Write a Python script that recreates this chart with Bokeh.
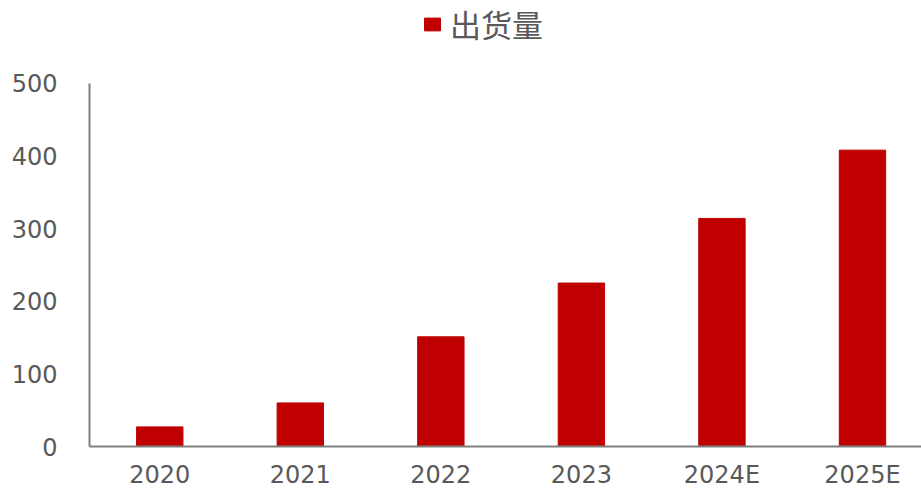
from bokeh.plotting import figure
from bokeh.models import Range1d, FixedTicker, Legend, LegendItem, ColumnDataSource
from bokeh.embed import file_html
from bokeh.resources import INLINE

# ---- data ----
categories = ["2020", "2021", "2022", "2023", "2024E", "2025E"]
shipments = [27, 60, 151, 225, 314, 408]
y_ticks = [0, 100, 200, 300, 400, 500]
series_name = "出货量"

# positions of categories on a numeric axis (category centres)
xpos = [i + 0.5 for i in range(len(categories))]

src = ColumnDataSource(dict(x=xpos, top=shipments, cat=categories))

p = figure(width=921, height=491, output_backend="svg", toolbar_location=None,
           x_range=Range1d(0, 5.92), y_range=Range1d(0, 614))
p.min_border_left = 89
p.min_border_right = 0
p.min_border_top = 0
p.min_border_bottom = 0
p.outline_line_color = None
p.grid.visible = False
p.background_fill_color = "white"

r = p.vbar(x="x", top="top", width=0.33, bottom=0, source=src,
           fill_color="#C00000", line_color="#C00000")

grey_txt = "#595959"
axis_col = "#7F7F7F"

# y axis
ya = p.yaxis[0]
ya.ticker = FixedTicker(ticks=y_ticks)
ya.bounds = (0, 500)
ya.axis_line_color = axis_col
ya.axis_line_width = 2
ya.major_tick_line_color = None
ya.minor_tick_line_color = None
ya.major_label_standoff = 26
ya.major_label_text_font = "DejaVu Sans"
ya.major_label_text_font_size = "24px"
ya.major_label_text_color = grey_txt

# x axis
xa = p.xaxis[0]
xa.ticker = FixedTicker(ticks=xpos)
xa.major_label_overrides = {x: c for x, c in zip(xpos, categories)}
xa.axis_line_color = axis_col
xa.axis_line_width = 2
xa.major_tick_line_color = None
xa.minor_tick_line_color = None
xa.major_label_standoff = 8
xa.major_label_text_font = "DejaVu Sans"
xa.major_label_text_font_size = "24px"
xa.major_label_text_color = grey_txt

legend = Legend(items=[LegendItem(label=series_name, renderers=[r])],
                location=(333, 400), orientation="horizontal",
                glyph_width=20, glyph_height=16, label_standoff=8,
                padding=0, margin=0, border_line_color=None,
                background_fill_alpha=0,
                label_text_font="Noto Sans CJK SC",
                label_text_font_size="31px", label_text_color=grey_txt)
p.add_layout(legend)

open("out.html", "w").write(file_html(p, INLINE))
